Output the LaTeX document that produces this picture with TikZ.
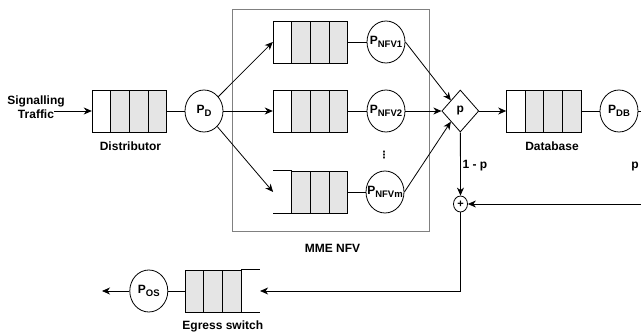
\documentclass[tikz,border=0pt]{standalone}
\usepackage{fontspec}
\setmainfont{Liberation Sans}
\newfontfamily\symfont{DejaVu Sans}
\usetikzlibrary{arrows.meta, shapes.geometric}
\newcommand{\Psub}[1]{P\raisebox{-0.4ex}{\fontsize{9.5}{9.5}\selectfont #1}}

\begin{document}
\begin{tikzpicture}[x=1pt, y=-1pt, font=\fontsize{12}{13.5}\selectfont\bfseries,
  cellw/.style={rectangle, draw, fill=white, line width=1pt, minimum width=18.6pt, minimum height=42pt, inner sep=0pt},
  cellg/.style={cellw, fill=gray!20},
  cello/.style={rectangle, minimum width=18.6pt, minimum height=42pt, inner sep=0pt},
  procn/.style={ellipse, draw, fill=white, line width=0.8pt, minimum width=38pt, minimum height=42pt, inner sep=0pt},
  choicen/.style={diamond, draw, fill=white, line width=0.8pt, minimum width=37pt, minimum height=42pt, inner sep=0pt},
  sumn/.style={ellipse, draw, fill=white, line width=0.8pt, minimum width=14pt, minimum height=16pt, inner sep=0pt, font=\fontsize{11}{11}\selectfont\bfseries},
  flowedge/.style={draw, line width=0.8pt, -{Stealth[length=8pt, width=7pt, inset=2.5pt]}},
  plainedge/.style={draw, line width=0.8pt},
  lbl/.style={inner sep=0pt}
]
  \clip (0,0) rectangle (641,332);
  % ===== MME NFV frame =====
  \draw[gray, line width=0.8pt] (232.3,9.3) rectangle (429.3,231.7);
  % ===== Distributor =====
  \node[lbl, align=center] (sig) at (36,107) {Signalling\\Traffic};
  \coordinate (sigend) at (54,111);
  \node[cellw] (d0) at (101.6,111) {};
  \node[cellg] (d1) at (120.2,111) {};
  \node[cellg] (d2) at (138.8,111) {};
  \node[cellg] (d3) at (157.4,111) {};
  \node[procn, label={center:\Psub{D}}] (pd) at (204,111) {};
  \node[lbl] (distlbl) at (130.5,146.7) {Distributor};
  % ===== NFV instances =====
  \node[cellw] (t0) at (282.6,42) {};
  \node[cellg] (t1) at (301.2,42) {};
  \node[cellg] (t2) at (319.8,42) {};
  \node[cellg] (t3) at (338.4,42) {};
  \node[procn, label={center:\Psub{NFV1}}] (nfv1) at (386,42) {};
  \node[cellw] (m0) at (282.6,111) {};
  \node[cellg] (m1) at (301.2,111) {};
  \node[cellg] (m2) at (319.8,111) {};
  \node[cellg] (m3) at (338.4,111) {};
  \node[procn, label={center:\Psub{NFV2}}] (nfv2) at (386,111) {};
  \node[lbl, font=\symfont\bfseries\fontsize{10}{10}\selectfont] (dots) at (384,155) {⋮};
  \node[cello] (b0) at (282.6,192) {};
  \node[cellg] (b1) at (301.2,192) {};
  \node[cellg] (b2) at (319.8,192) {};
  \node[cellg] (b3) at (338.4,192) {};
  \draw[line width=1pt] (b0.north west) -- (b0.north east) (b0.south west) -- (b0.south east);
  \node[procn, label={center:\Psub{NFVm}}] (nfvm) at (385,192) {};
  \node[lbl] (mmelbl) at (332.5,248.3) {MME NFV};
  % ===== Database branch =====
  \node[choicen] (dia) at (460.3,111) {p};
  \node[cellw] (db0) at (516,111) {};
  \node[cellg] (db1) at (534.6,111) {};
  \node[cellg] (db2) at (553.2,111) {};
  \node[cellg] (db3) at (571.8,111) {};
  \node[procn, label={center:\Psub{DB}}] (pdb) at (619,111) {};
  \node[lbl] (dblbl) at (552,146.7) {Database};
  \coordinate (fbx) at (660,111);
  \node[lbl] (plbl) at (635,167) {p};
  \node[lbl] (qlbl) at (475,166) {1 - p};
  \node[sumn] (plus) at (460.5,204) {+};
  % ===== Egress switch =====
  \node[cellg] (e0) at (194.5,291) {};
  \node[cellg] (e1) at (213.2,291) {};
  \node[cellg] (e2) at (231.9,291) {};
  \node[cello] (e3) at (250.6,291) {};
  \draw[line width=1pt] (e3.north west) -- (e3.north east) (e3.south west) -- (e3.south east);
  \node[procn, label={center:\Psub{OS}}] (pos) at (148.8,291) {};
  \coordinate (sink) at (102,291);
  \node[lbl] (eglbl) at (222.8,326) {Egress switch};
  % ===== connectors =====
  \draw[flowedge] (sigend) -- (d0.west);
  \draw[plainedge] (d3.east) -- (pd);
  \draw[flowedge] (pd) -- (t0.west);
  \draw[flowedge] (pd) -- (m0.west);
  \draw[flowedge] (pd) -- (b0.west);
  \draw[plainedge] (t3.east) -- (nfv1);
  \draw[plainedge] (m3.east) -- (nfv2);
  \draw[plainedge] (b3.east) -- (nfvm);
  \draw[flowedge] (nfv1.east) -- (dia.north west);
  \draw[flowedge] (nfv2) -- (dia);
  \draw[flowedge] (nfvm.east) -- (dia.south west);
  \draw[flowedge] (dia) -- (db0.west);
  \draw[plainedge] (db3.east) -- (pdb);
  \draw[flowedge] (pdb) -- (fbx) |- (plus.east);
  \draw[flowedge] (dia) -- (plus);
  \draw[flowedge] (plus) |- (e3.east);
  \draw[plainedge] (e0.west) -- (pos);
  \draw[flowedge] (pos) -- (sink);
\end{tikzpicture}
\end{document}
